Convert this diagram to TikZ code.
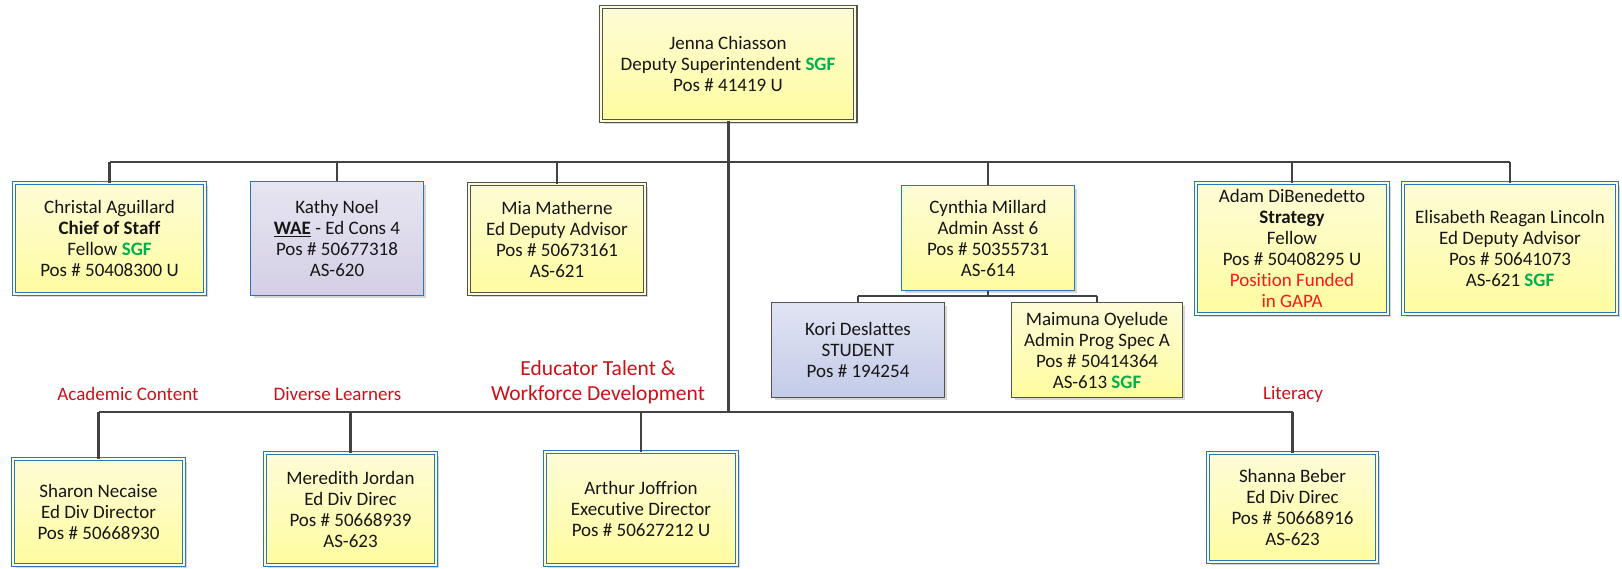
\documentclass[tikz,border=0pt]{standalone}
\usepackage{fontspec}
\setmainfont[RawFeature={-liga;-clig;-calt;-dlig}]{Carlito}
\usetikzlibrary{shadows}

\definecolor{ylTop}{RGB}{253,252,214}
\definecolor{ylBot}{RGB}{255,252,160}
\definecolor{lvTop}{RGB}{231,229,241}
\definecolor{lvBot}{RGB}{212,207,229}
\definecolor{blTop}{RGB}{224,228,243}
\definecolor{blBot}{RGB}{196,203,231}
\definecolor{edgeBlue}{RGB}{38,118,196}
\definecolor{edgeGray}{RGB}{82,82,82}
\definecolor{wire}{RGB}{66,66,66}
\definecolor{sgfGreen}{RGB}{0,176,80}
\definecolor{unitRed}{RGB}{204,16,24}
\definecolor{fundRed}{RGB}{250,24,24}
\definecolor{ink}{RGB}{22,22,22}

\newcommand{\sgftag}{\textcolor{sgfGreen}{\textbf{SGF}}}

\tikzset{
  card/.style={rectangle, inner sep=0pt, align=center, text=ink,
    font=\fontsize{19}{21}\selectfont,
    drop shadow={shadow xshift=3pt, shadow yshift=-3pt, fill=black, opacity=0.16}},
  fillY/.style={top color=ylTop, bottom color=ylBot},
  fillLav/.style={top color=lvTop, bottom color=lvBot},
  fillBlu/.style={top color=blTop, bottom color=blBot},
  oneBlue/.style 2 args={draw=edgeBlue, line width=1.3pt,
    minimum width=#1-1.3, minimum height=#2-1.3},
  oneGray/.style 2 args={draw=edgeGray, line width=1.3pt,
    minimum width=#1-1.3, minimum height=#2-1.3},
  twoBlue/.style 2 args={draw=edgeBlue, line width=1.1pt, double=ylTop,
    double distance=2.2pt, minimum width=#1-4.4, minimum height=#2-4.4},
  twoGray/.style 2 args={draw=edgeGray, line width=1.1pt, double=ylTop,
    double distance=2.2pt, minimum width=#1-4.4, minimum height=#2-4.4},
  wireline/.style={draw=wire, line width=2.2pt},
  trunkline/.style={draw=wire, line width=3pt},
  subwire/.style={draw=wire, line width=1.8pt},
  unitlabel/.style={text=unitRed, inner sep=0pt, align=center,
    font=\fontsize{19}{21}\selectfont},
  biglabel/.style={text=unitRed, inner sep=0pt, align=center,
    font=\fontsize{21.5}{25}\selectfont},
}

\begin{document}
\begin{tikzpicture}[x=1pt, y=-1pt]
\useasboundingbox (0,0) rectangle (1622,568);

% bus anchor points
\coordinate (busU) at (728,162);
\coordinate (busL) at (728,412);
\coordinate (cbus) at (988,296);

% ---------- top ----------
\node[card, fillY, twoGray={259}{118}] (jenna) at (728,64)
  {Jenna Chiasson\\Deputy Superintendent \sgftag\\Pos \# 41419 U};

% ---------- second row ----------
\node[card, fillY, twoBlue={195}{115}] (christal) at (109.5,238.5)
  {Christal Aguillard\\\textbf{Chief of Staff}\\Fellow \sgftag\\Pos \# 50408300 U};
\node[card, fillLav, oneBlue={174}{115}] (kathy) at (337,238.5)
  {Kathy Noel\\\underline{\textbf{WAE}} - Ed Cons 4\\Pos \# 50677318\\AS-620};
\node[card, fillY, twoGray={180}{114}] (mia) at (557,239)
  {Mia Matherne\\Ed Deputy Advisor\\Pos \# 50673161\\AS-621};
\node[card, fillY, oneBlue={174}{106}] (cynthia) at (988,238)
  {Cynthia Millard\\Admin Asst 6\\Pos \# 50355731\\AS-614};
\node[card, fillY, twoBlue={196}{135}] (adam) at (1292,248.5)
  {Adam DiBenedetto\\\textbf{Strategy}\\Fellow\\Pos \# 50408295 U\\
   \textcolor{fundRed}{Position Funded}\\\textcolor{fundRed}{in GAPA}};
\node[card, fillY, twoBlue={218}{135}] (elisabeth) at (1510,248.5)
  {Elisabeth Reagan Lincoln\\Ed Deputy Advisor\\Pos \# 50641073\\AS-621 \sgftag};

% ---------- assistants under Cynthia ----------
\node[card, fillBlu, oneGray={174}{96}] (kori) at (858,350)
  {Kori Deslattes\\STUDENT\\Pos \# 194254};
\node[card, fillY, oneGray={172}{96}] (maimuna) at (1097,350)
  {Maimuna Oyelude\\Admin Prog Spec A\\Pos \# 50414364\\AS-613 \sgftag};

% ---------- bottom row ----------
\node[card, fillY, twoBlue={175}{110}] (sharon) at (98.5,512)
  {Sharon Necaise\\Ed Div Director\\Pos \# 50668930};
\node[card, fillY, twoBlue={175}{116}] (meredith) at (350.5,509)
  {Meredith Jordan\\Ed Div Direc\\Pos \# 50668939\\AS-623};
\node[card, fillY, twoBlue={196}{117}] (arthur) at (641,508.5)
  {Arthur Joffrion\\Executive Director\\Pos \# 50627212 U};
\node[card, fillY, twoBlue={173}{113}] (shanna) at (1292.5,507.5)
  {Shanna Beber\\Ed Div Direc\\Pos \# 50668916\\AS-623};

% ---------- unit labels ----------
\node[unitlabel] (lblAcademic) at (128,394) {Academic Content};
\node[unitlabel] (lblDiverse) at (337.5,394) {Diverse Learners};
\node[biglabel] (lblEducator) at (598,382.5) {Educator Talent \&\\Workforce Development};
\node[unitlabel] (lblLiteracy) at (1293,394) {Literacy};

% ---------- connectors ----------
\draw[trunkline] (jenna.south) -- (jenna.south |- busL);
\draw[wireline] (christal.north |- busU) -- (elisabeth.north |- busU);
\foreach \n in {christal,kathy,mia,cynthia,adam,elisabeth}
  \draw[wireline] (\n.north |- busU) -- (\n.north);

\draw[wireline] (sharon.north |- busL) -- (shanna.north |- busL);
\foreach \n in {sharon,meredith,arthur,shanna}
  \draw[wireline] (\n.north |- busL) -- (\n.north);

\draw[subwire] (cynthia.south) -- (cbus);
\draw[subwire] (kori.north |- cbus) -- (maimuna.north |- cbus);
\foreach \n in {kori,maimuna}
  \draw[subwire] (\n.north |- cbus) -- (\n.north);
\end{tikzpicture}
\end{document}
